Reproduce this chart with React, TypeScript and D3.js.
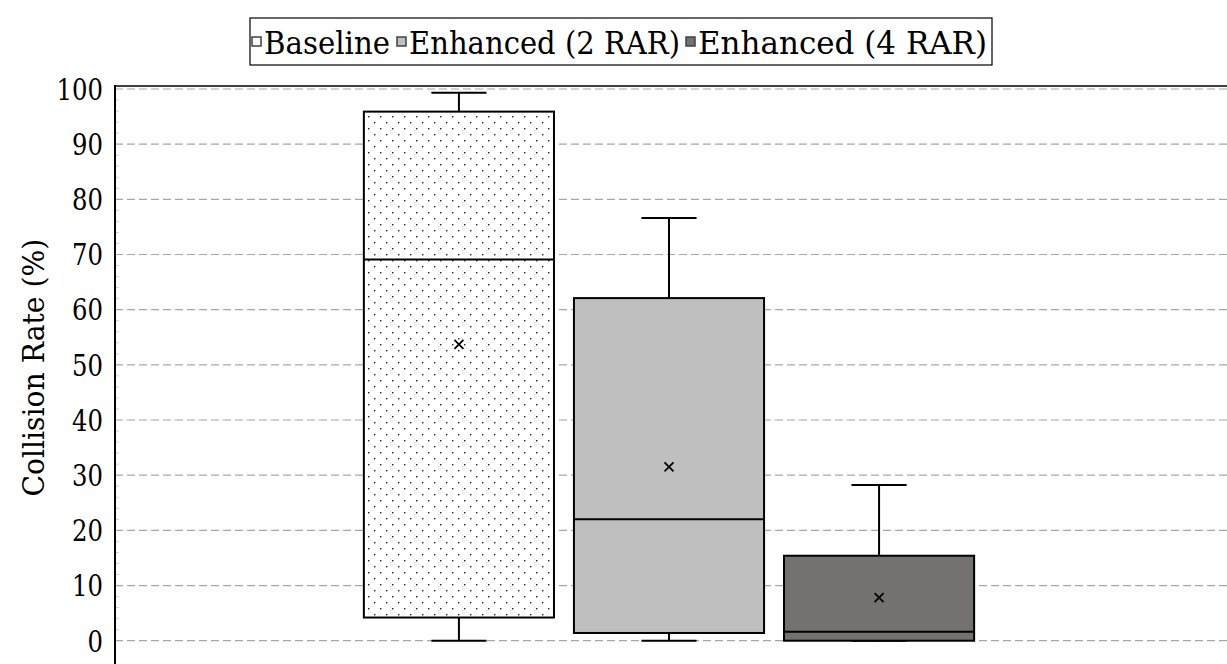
import React from 'react';
import * as d3 from 'd3';

const series = ['Baseline', 'Enhanced (2 RAR)', 'Enhanced (4 RAR)'];
const minVals = [0, 0, 0];
const q1Vals = [4.2, 1.4, 0];
const medianVals = [69.1, 22.0, 1.6];
const q3Vals = [95.9, 62.1, 15.4];
const maxVals = [99.3, 76.6, 28.2];
const meanVals = [53.7, 31.5, 7.8];
const yTicks = [0, 10, 20, 30, 40, 50, 60, 70, 80, 90, 100];
const minorTicks = d3.range(0, 101, 2).filter(v => v % 10 !== 0);

const fills = ['url(#dots)', '#bfbfbf', '#767171'];
const legendFills = ['#ffffff', '#bfbfbf', '#767171'];

const W = 1227;
const H = 664;
const left = 115;
const right = 1223;
const top = 86;
const font = 'DejaVu Serif';

const App = () => {
    // one category holding the three series, like the spreadsheet chart
    const x0 = d3.scaleBand()
        .domain(['all'])
        .range([left, right])
        .paddingInner(0)
        .paddingOuter(0.379);

    const x1 = d3.scaleBand()
        .domain(series)
        .range([0, x0.bandwidth()])
        .paddingInner(0.095)
        .paddingOuter(0.0476);

    const y = d3.scaleLinear()
        .domain([0, 100])
        .range([640.7, 89]);

    const bw = x1.bandwidth();
    const capW = bw * 0.29;

    // legend slots (marker x, text x, text width)
    const legendItems = [
        {x: 252, tx: 264, w: 126},
        {x: 397, tx: 409, w: 271},
        {x: 686, tx: 698, w: 289},
    ];

    return (
        <div style={{position: 'absolute', left: 0, top: 0}}>
            <svg width={W} height={H} style={{display: 'block', background: '#fff'}}>
                <defs>
                    <pattern id="dots" width={12} height={12} patternUnits="userSpaceOnUse">
                        <rect width={12} height={12} fill="#fff"/>
                        <rect x={2} y={2} width={1.4} height={1.4} fill="#222"/>
                        <rect x={8} y={8} width={1.4} height={1.4} fill="#222"/>
                    </pattern>
                </defs>

                {/* grid */}
                {yTicks.map(t => (
                    <line key={'g' + t} x1={left} x2={W} y1={y(t)} y2={y(t)}
                          stroke="#a6a6a6" strokeWidth={1.2} strokeDasharray="8,4"/>
                ))}
                {minorTicks.map(t => (
                    <line key={'m' + t} x1={left} x2={left + 4} y1={y(t)} y2={y(t)}
                          stroke="#d0d0d0" strokeWidth={1}/>
                ))}

                {/* top border and y axis */}
                <line x1={left} x2={W} y1={top} y2={top} stroke="#404040" strokeWidth={2}/>
                <line x1={left} x2={left} y1={top - 1} y2={H} stroke="#000" strokeWidth={2}/>

                {yTicks.map(t => (
                    <text key={'t' + t} x={103} y={y(t)} dy="0.36em" textAnchor="end"
                          fontFamily={font} fontSize={30} fill="#000"
                          textLength={String(t).length * 15.5} lengthAdjust="spacingAndGlyphs">{t}</text>
                ))}

                <text transform={`translate(34, ${y(49.5)}) rotate(-90)`} textAnchor="middle"
                      dy="0.36em" fontFamily={font} fontSize={29} fill="#000"
                      textLength={258} lengthAdjust="spacingAndGlyphs">Collision Rate (%)</text>

                {/* boxes */}
                {series.map((s, i) => {
                    const bx = (x0('all') ?? 0) + (x1(s) ?? 0);
                    const cx = bx + bw / 2;
                    const m = 4.5;
                    return (
                        <g key={s}>
                            <line x1={cx} x2={cx} y1={y(q3Vals[i])} y2={y(maxVals[i])} stroke="#000" strokeWidth={2}/>
                            <line x1={cx} x2={cx} y1={y(q1Vals[i])} y2={y(minVals[i])} stroke="#000" strokeWidth={2}/>
                            <line x1={cx - capW / 2} x2={cx + capW / 2} y1={y(maxVals[i])} y2={y(maxVals[i])} stroke="#000" strokeWidth={2}/>
                            <line x1={cx - capW / 2} x2={cx + capW / 2} y1={y(minVals[i])} y2={y(minVals[i])} stroke="#000" strokeWidth={2}/>
                            <rect x={bx} y={y(q3Vals[i])} width={bw} height={y(q1Vals[i]) - y(q3Vals[i])}
                                  fill={fills[i]} stroke="#000" strokeWidth={2}/>
                            <line x1={bx} x2={bx + bw} y1={y(medianVals[i])} y2={y(medianVals[i])} stroke="#000" strokeWidth={2}/>
                            <path d={`M${cx - m},${y(meanVals[i]) - m}L${cx + m},${y(meanVals[i]) + m}M${cx - m},${y(meanVals[i]) + m}L${cx + m},${y(meanVals[i]) - m}`}
                                  stroke="#000" strokeWidth={1.8}/>
                        </g>
                    );
                })}

                {/* legend */}
                <rect x={250} y={18} width={742} height={47} fill="#fff" stroke="#000" strokeWidth={1.2}/>
                {series.map((s, i) => (
                    <g key={'l' + s}>
                        <rect x={legendItems[i].x} y={37} width={9} height={9}
                              fill={legendFills[i]} stroke="#404040" strokeWidth={1.5}/>
                        <text x={legendItems[i].tx} y={42} dy="0.36em" fontFamily={font}
                              fontSize={32} fill="#000"
                              textLength={legendItems[i].w} lengthAdjust="spacingAndGlyphs">{s}</text>
                    </g>
                ))}
            </svg>
        </div>
    );
};

export default App;
